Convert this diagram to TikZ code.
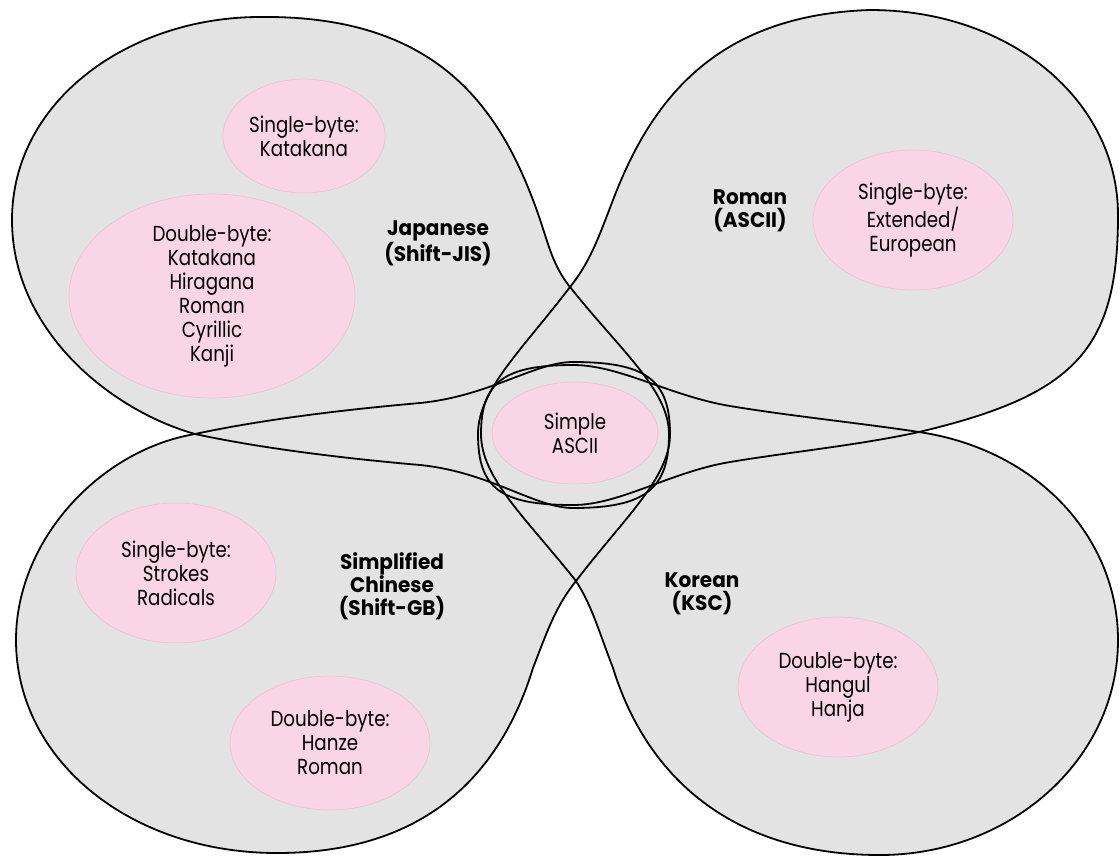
\documentclass[tikz,border=0pt]{standalone}
\usepackage{fontspec}
\setmainfont{Poppins}
\newfontfamily\pinkfont{Poppins}[FakeStretch=0.84]
\newfontfamily\labelfont{Poppins}[FakeStretch=0.95]
\usetikzlibrary{shapes.geometric}
\definecolor{lobegray}{RGB}{227,227,227}
\definecolor{pinkfill}{RGB}{249,213,229}
\definecolor{pinkline}{RGB}{234,196,211}
\pgfdeclarelayer{bg}
\pgfsetlayers{bg,main}
\newcommand\mylobe[1]{%
  \begin{pgfonlayer}{bg}\fill[lobegray] #1;\end{pgfonlayer}
  \draw[lobeline] #1;}
\begin{document}
\begin{tikzpicture}[x=0.75pt,y=-0.75pt,
  lobeline/.style={draw=black,line width=1.35pt,line join=round},
  bubble/.style={ellipse,fill=pinkfill,draw=pinkline,line width=0.5pt,inner sep=0pt,
    align=center,font=\pinkfont\fontsize{16.3}{18}\selectfont},
  grouplabel/.style={align=center,font=\labelfont\bfseries\fontsize{15.8}{17.3}\selectfont}]
\useasboundingbox (0,0) rectangle (1120,858);
% Japanese (top left)
\mylobe{(260,17) .. controls (430,15) and (495,100) .. (533,200)
  .. controls (548,239) and (550,262) .. (570,287)
  .. controls (620,350) and (669,390) .. (669,434)
  .. controls (669,489) and (645,508) .. (573,508)
  .. controls (535,508) and (490,472) .. (420,465)
  .. controls (340,458) and (260,448) .. (195,434)
  .. controls (110,410) and (12,330) .. (12,220)
  .. controls (12,100) and (130,17) .. (260,17) -- cycle}
% Roman (top right)
\mylobe{(870,10) .. controls (1010,10) and (1118,100) .. (1118,215)
  .. controls (1118,350) and (1075,395) .. (919,432)
  .. controls (860,445) and (790,452) .. (730,462)
  .. controls (670,472) and (620,505) .. (573,505)
  .. controls (501,505) and (478,489) .. (478,434)
  .. controls (478,390) and (522,350) .. (570,287)
  .. controls (590,262) and (598,239) .. (613,200)
  .. controls (651,100) and (716,15) .. (870,10) -- cycle}
% Simplified Chinese (bottom left)
\mylobe{(195,434) .. controls (260,420) and (340,410) .. (420,403)
  .. controls (490,396) and (535,362) .. (573,362)
  .. controls (645,362) and (670,379) .. (670,434)
  .. controls (670,478) and (624,518) .. (576,581)
  .. controls (556,606) and (548,629) .. (533,668)
  .. controls (500,775) and (425,853) .. (277,853)
  .. controls (130,853) and (16,760) .. (16,640)
  .. controls (16,540) and (100,450) .. (195,434) -- cycle}
% Korean (bottom right)
\mylobe{(919,432) .. controls (1040,450) and (1118,540) .. (1118,640)
  .. controls (1118,760) and (1010,855) .. (880,855)
  .. controls (730,855) and (646,775) .. (613,668)
  .. controls (598,629) and (592,606) .. (576,581)
  .. controls (526,518) and (481,478) .. (481,434)
  .. controls (481,382) and (504,365) .. (573,365)
  .. controls (620,365) and (670,396) .. (730,406)
  .. controls (790,416) and (860,423) .. (919,432) -- cycle}
% pink bubbles
\node[bubble,minimum width=121.5pt,minimum height=85.5pt] (jsingle) at (304,136) {Single-byte:\\Katakana};
\node[bubble,minimum width=214.5pt,minimum height=153pt] (jdouble) at (212,296) {Double-byte:\\Katakana\\Hiragana\\Roman\\Cyrillic\\Kanji};
\node[bubble,minimum width=150pt,minimum height=105pt] (rsingle) at (913,220) {Single-byte:\\Extended/\\European};
\node[bubble,minimum width=150pt,minimum height=105pt] (csingle) at (176,573) {Single-byte:\\Strokes\\Radicals};
\node[bubble,minimum width=150pt,minimum height=100.5pt] (cdouble) at (330,743) {Double-byte:\\Hanze\\Roman};
\node[bubble,minimum width=150pt,minimum height=105pt] (kdouble) at (838,687) {Double-byte:\\Hangul\\Hanja};
\node[bubble,minimum width=124.5pt,minimum height=76.5pt] (ascii) at (575,433) {Simple\\ASCII};
% group labels
\node[grouplabel] (jlabel) at (438,243) {Japanese\\(Shift-JIS)};
\node[grouplabel] (rlabel) at (750,211) {Roman\\(ASCII)};
\node[grouplabel] (clabel) at (392,586) {Simplified\\Chinese\\(Shift-GB)};
\node[grouplabel] (klabel) at (702,594) {Korean\\(KSC)};
\end{tikzpicture}
\end{document}
